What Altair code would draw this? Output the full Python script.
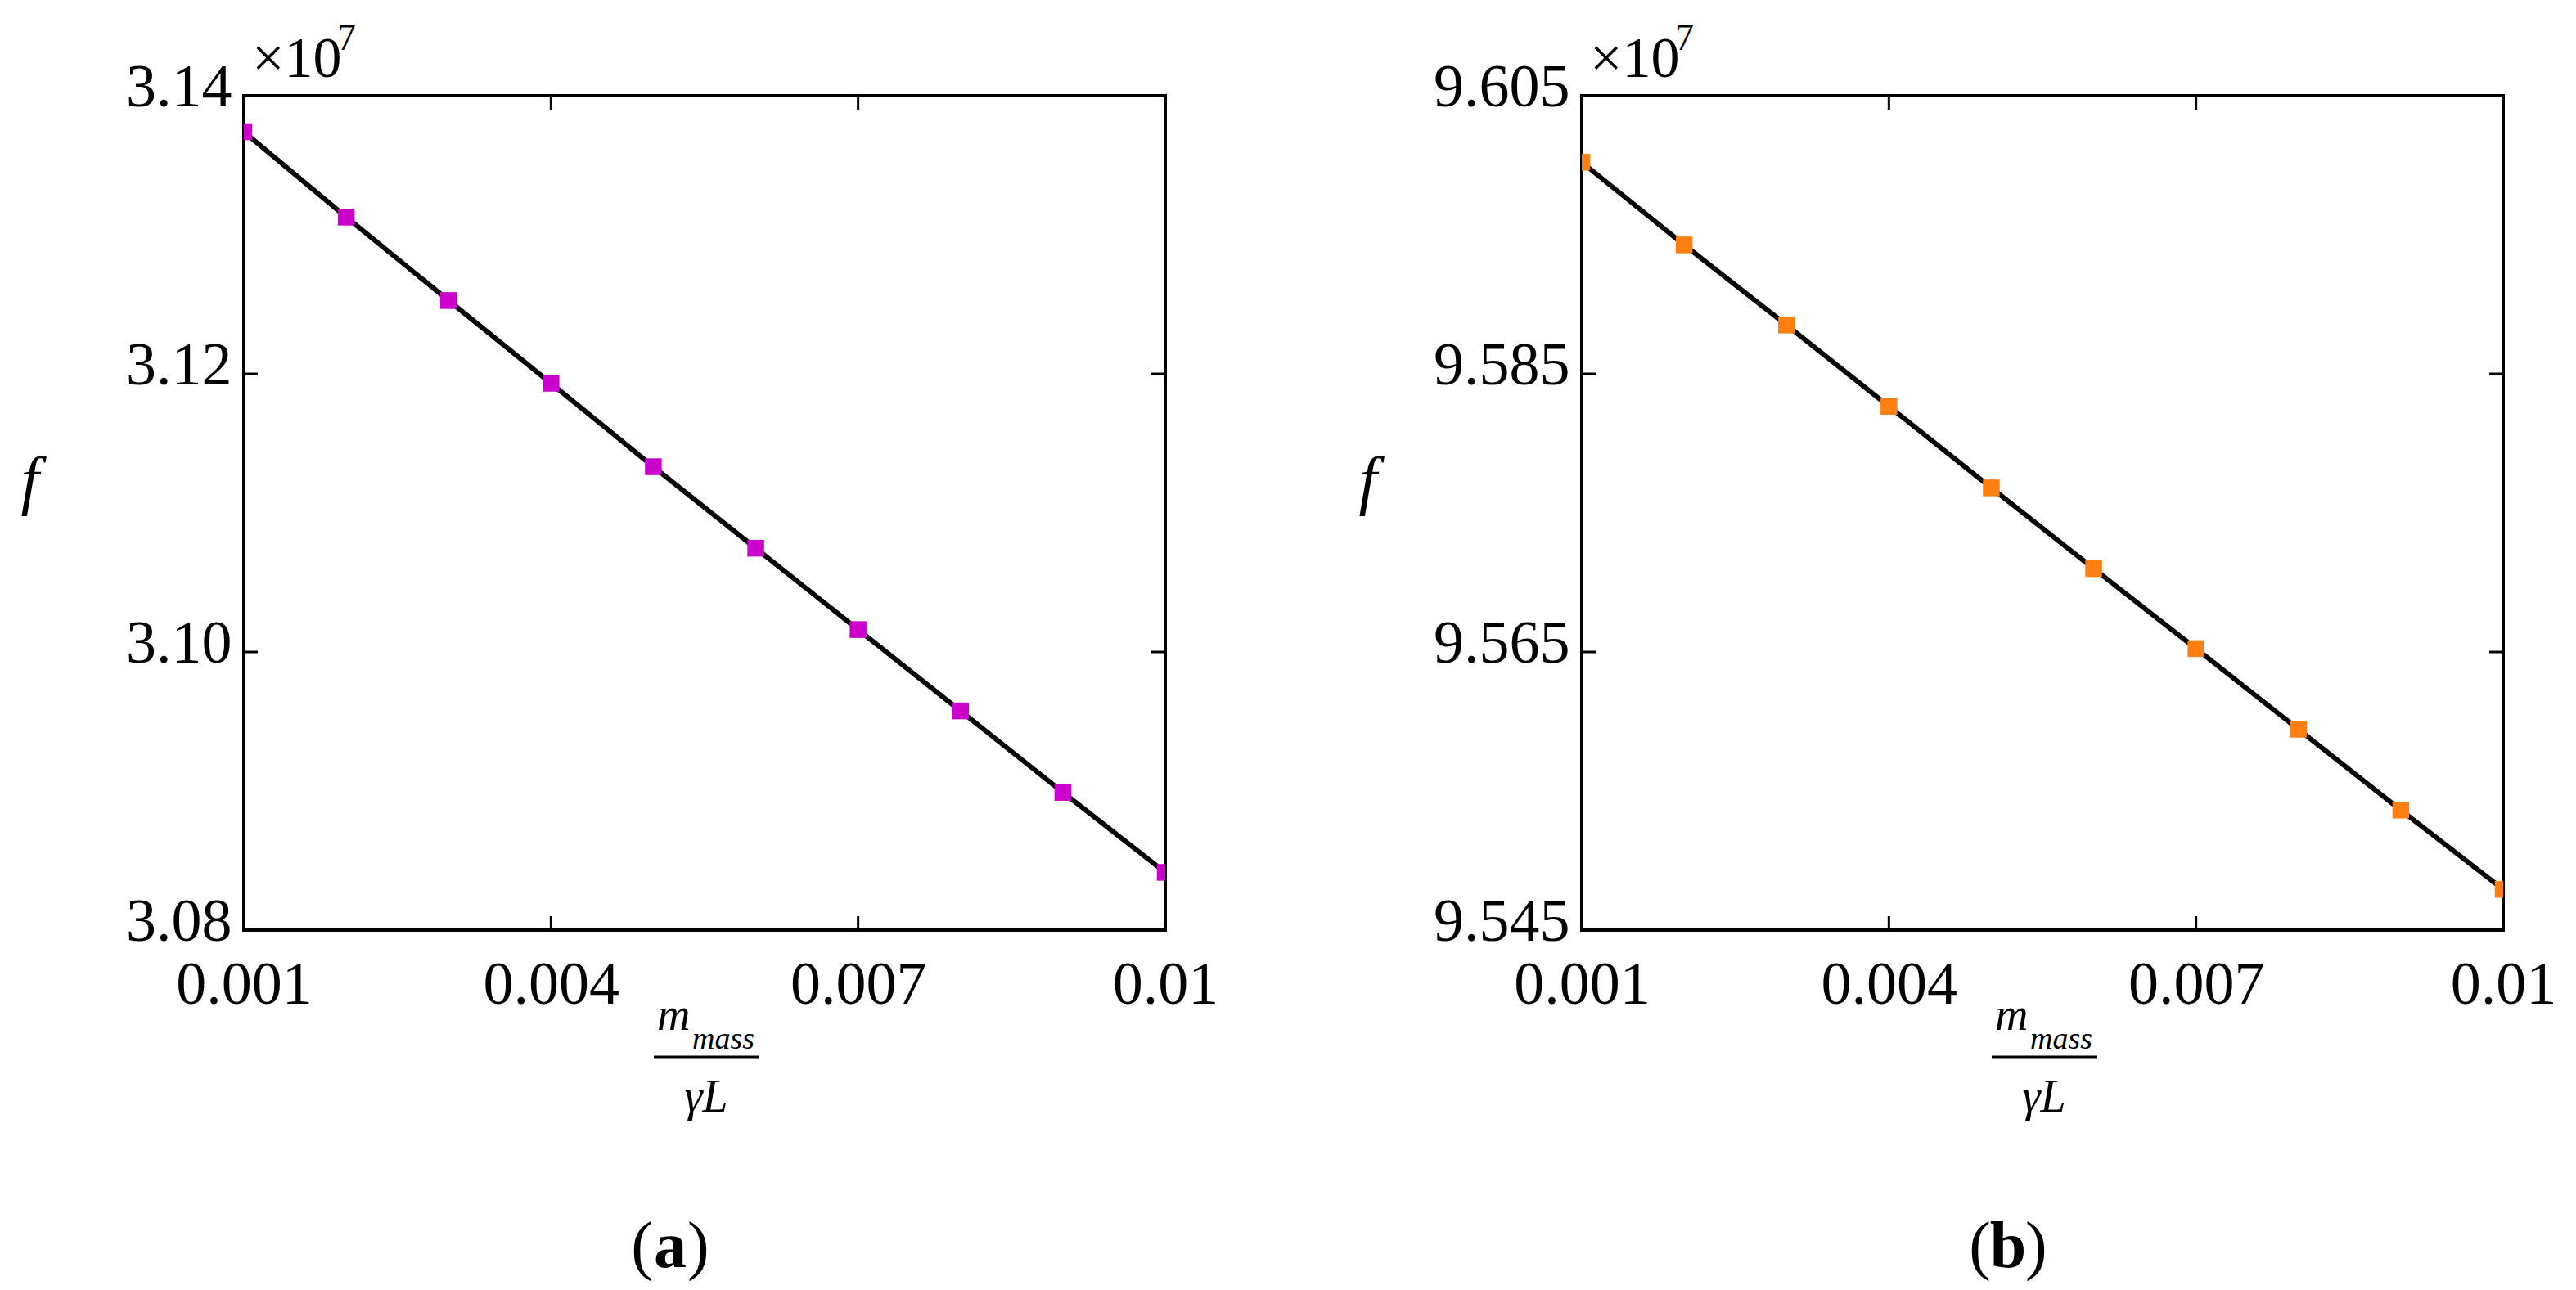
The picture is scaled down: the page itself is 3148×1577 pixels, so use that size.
import altair as alt
import pandas as pd

# ---- data (f in units of 1e7) ----
m_ratio = [0.001, 0.002, 0.003, 0.004, 0.005, 0.006, 0.007, 0.008, 0.009, 0.010]
f_a = [3.13741, 3.13127, 3.12527, 3.11932, 3.11332, 3.10746, 3.10161, 3.09576, 3.08990, 3.08415]
f_b = [9.60022, 9.59427, 9.58851, 9.58266, 9.57680, 9.57100, 9.56524, 9.55944, 9.55363, 9.54793]

x_ticks = [0.001, 0.004, 0.007, 0.010]
y_ticks_a = [3.08, 3.10, 3.12, 3.14]
y_ticks_b = [9.545, 9.565, 9.585, 9.605]
y_dom_a = [3.08, 3.14]
y_dom_b = [9.545, 9.605]

marker_a = "#CC00CC"
marker_b = "#FF8010"
panel_labels = ["a", "b"]

W, H = 1126, 1020
FONT = "'Liberation Serif', 'Times New Roman', Times, 'DejaVu Serif', serif"
TICK_LEN = 17


def panel(vals, y_dom, y_ticks, y_fmt, color, tag):
    df = pd.DataFrame({"m": m_ratio, "f": vals})
    xt = pd.DataFrame({"t": x_ticks})
    yt = pd.DataFrame({"t": y_ticks})
    one = pd.DataFrame({"k": [0]})

    xscale = alt.Scale(domain=[0.001, 0.010], nice=False, zero=False)
    yscale = alt.Scale(domain=y_dom, nice=False, zero=False)
    common = dict(grid=False, domain=False, ticks=False, tickSize=0,
                  labelFont=FONT, labelFontSize=74, labelColor="black",
                  labelFlush=False, labelOverlap=False, labelBaseline="alphabetic")
    xaxis = alt.Axis(values=x_ticks, format="~g", title=None, labelPadding=89, **common)
    yaxis = alt.Axis(values=y_ticks, format=y_fmt, title="f", labelOffset=12,
                     labelPadding=15, titleAngle=0, titleX=-262, titleY=496,
                     titleAlign="center", titleBaseline="alphabetic", titleColor="black",
                     titleFont=FONT, titleFontStyle="italic", titleFontWeight="normal",
                     titleFontSize=80, **common)

    X = alt.X("m:Q", scale=xscale, axis=xaxis)
    Y = alt.Y("f:Q", scale=yscale, axis=yaxis)

    line = alt.Chart(df).mark_line(color="black", strokeWidth=6, clip=True).encode(x=X, y=Y)
    pts = alt.Chart(df).mark_point(shape="square", filled=True, size=420, opacity=1,
                                   color=color, clip=True).encode(x=X, y=Y)

    XT = alt.X("t:Q", scale=xscale, axis=xaxis)
    YT = alt.Y("t:Q", scale=yscale, axis=yaxis)
    tick_style = dict(color="black", strokeWidth=3)
    t_bottom = alt.Chart(xt).mark_rule(**tick_style).encode(
        x=XT, y=alt.value(H), y2=alt.value(H - TICK_LEN))
    t_top = alt.Chart(xt).mark_rule(**tick_style).encode(
        x=XT, y=alt.value(0), y2=alt.value(TICK_LEN))
    t_left = alt.Chart(yt).mark_rule(**tick_style).encode(
        y=YT, x=alt.value(0), x2=alt.value(TICK_LEN))
    t_right = alt.Chart(yt).mark_rule(**tick_style).encode(
        y=YT, x=alt.value(W), x2=alt.value(W - TICK_LEN))

    def txt(s, x, y, size, align="left", style="normal", weight="normal"):
        return alt.Chart(one).mark_text(
            text=s, font=FONT, fontSize=size, fontStyle=style, fontWeight=weight,
            align=align, baseline="alphabetic", color="black"
        ).encode(x=alt.value(x), y=alt.value(y))

    texts = [
        txt("\u00d710", 10, -23, 70),
        txt("7", 114, -56, 46),
        txt("m", 505, 1142, 56, style="italic"),
        txt("mass", 548, 1165, 38, style="italic"),
        txt("\u03b3L", 565, 1242, 56, align="center", style="italic"),
        txt("(", 500, 1432, 80, align="right"),
        txt(tag, 521, 1432, 80, align="center", weight="bold"),
        txt(")", 542, 1432, 80, align="left"),
    ]
    bar = alt.Chart(one).mark_rule(color="black", strokeWidth=3).encode(
        x=alt.value(501), x2=alt.value(630), y=alt.value(1175))

    return alt.layer(line, pts, t_bottom, t_top, t_left, t_right, bar, *texts).properties(
        width=W, height=H)


left = panel(f_a, y_dom_a, y_ticks_a, ".2f", marker_a, panel_labels[0])
right = panel(f_b, y_dom_b, y_ticks_b, ".3f", marker_b, panel_labels[1])

chart = alt.hconcat(left, right, spacing=509, bounds="flush").properties(
    padding={"left": 14, "top": 14, "right": 5, "bottom": 0},
    background="white",
).configure_view(
    stroke="black", strokeWidth=4
).configure_axis(
    grid=False, domain=False, ticks=False, tickSize=0,
    labelFont=FONT, labelFontSize=74, labelColor="black", titleColor="black"
)

chart.save("out.html", embed_options={"renderer": "svg", "actions": False})
